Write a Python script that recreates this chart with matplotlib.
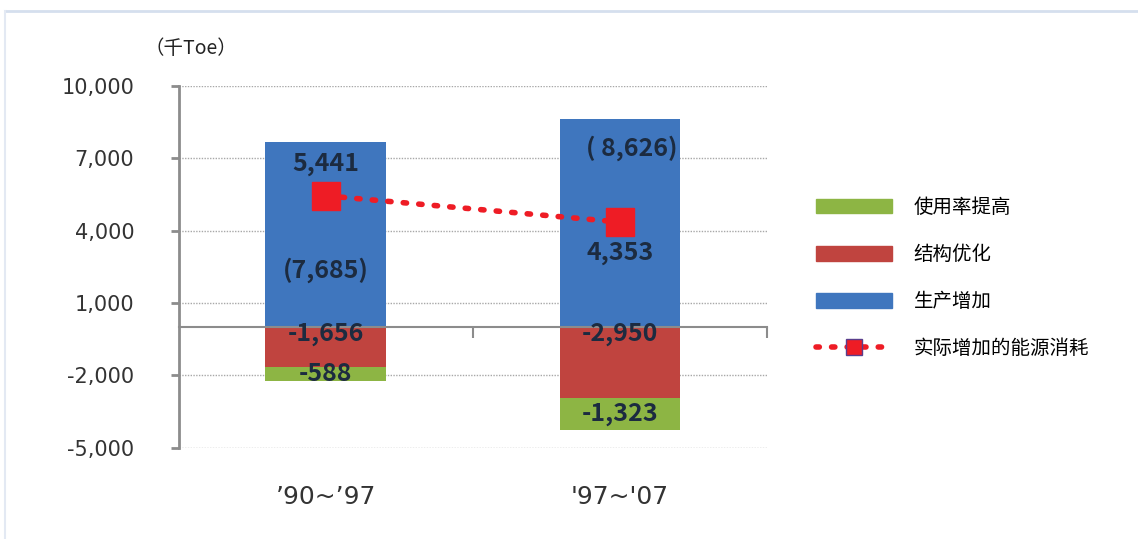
import numpy as np
import matplotlib.pyplot as plt
from matplotlib.patches import Patch
from matplotlib.lines import Line2D

plt.rcParams['font.family'] = ['Noto Sans CJK SC', 'DejaVu Sans']

# datos
categorias = ['’90~’97', "'97~'07"]
produccion = [7685, 8626]        # 生产增加
estructura = [-1656, -2950]      # 结构优化
eficiencia = [-588, -1323]       # 使用率提高
consumo_real = [5441, 4353]      # 实际增加的能源消耗

azul = '#3F76BE'
rojo = '#C0443F'
verde = '#8DB544'
rojo_linea = '#EE1C25'
texto = '#1C2B40'

fig = plt.figure(figsize=(11.38, 5.39), dpi=100)
ax = fig.add_axes([0.157, 0.169, 0.517, 0.672])

# borde claro de la imagen
fig.add_artist(Line2D([0.004, 1.0], [0.98, 0.98], color='#D5DFEE', lw=2))
fig.add_artist(Line2D([0.004, 0.004], [0.0, 0.98], color='#E3E9F3', lw=1.5))

x = np.arange(len(categorias))
w = 0.41
ax.bar(x, produccion, w, color=azul, zorder=2)
ax.bar(x, estructura, w, color=rojo, zorder=2)
ax.bar(x, eficiencia, w, bottom=estructura, color=verde, zorder=2)
ax.plot(x, consumo_real, color=rojo_linea, ls=(0, (0.6, 2.2)), lw=4,
        dash_capstyle='round', marker='s', ms=20, mfc=rojo_linea,
        mec=rojo_linea, zorder=3)

# etiquetas
fmt = lambda v: f'{v:,}'
kw = dict(fontsize=18, fontweight='bold', color=texto, ha='center', va='center', zorder=4)
ax.annotate(fmt(consumo_real[0]), (x[0], consumo_real[0]), xytext=(0, 23),
            textcoords='offset points', **kw)
ax.annotate(fmt(consumo_real[1]), (x[1], consumo_real[1]), xytext=(0, -22),
            textcoords='offset points', **kw)
ax.text(x[0], 2350, f'({fmt(produccion[0])})', **kw)
ax.text(x[1] + 0.04, 7420, f'( {fmt(produccion[1])})', **kw)
for i in range(len(x)):
    ax.annotate(fmt(estructura[i]), (x[i], 0), xytext=(0, -5),
                textcoords='offset points', **kw)
    ax.text(x[i], estructura[i] + eficiencia[i] / 2, fmt(eficiencia[i]), **kw)

# ejes
ax.set_xlim(-0.5, 1.5)
ax.set_ylim(-5000, 10000)
ax.set_yticks(np.arange(-5000, 10001, 3000))
ax.set_yticklabels([f'{v:,}' for v in range(-5000, 10001, 3000)],
                   family='DejaVu Sans')
ax.yaxis.grid(True, ls=(0, (1, 1)), color='#A8A8A8', lw=1, zorder=0)
ax.tick_params(axis='y', length=6, width=2, color='#8C8C8C', pad=26,
               labelsize=15, labelcolor='#333333')
for s in ['top', 'right']:
    ax.spines[s].set_visible(False)
ax.spines['left'].set_color('#8C8C8C')
ax.spines['left'].set_linewidth(2)
ax.spines['bottom'].set_position(('data', 0))
ax.spines['bottom'].set_color('#8C8C8C')
ax.spines['bottom'].set_linewidth(1.5)
ax.set_xticks([0.5, 1.5])
ax.set_xticklabels([])
ax.tick_params(axis='x', length=8, width=1.5, color='#8C8C8C')
for i, c in enumerate(categorias):
    ax.text(x[i], -0.135, c, transform=ax.get_xaxis_transform(), ha='center',
            va='center', fontsize=18, color='#333333', family='DejaVu Sans')

fig.text(0.127, 0.91, '（千Toe）', fontsize=14, color='#222222', va='center')

handles = [Patch(color=verde), Patch(color=rojo), Patch(color=azul),
           Line2D([], [], color=rojo_linea, ls=(0, (0.6, 2.2)), lw=4,
                  dash_capstyle='round', marker='s', ms=11, mfc=rojo_linea,
                  mec='#5A3E8C', mew=1)]
labels = ['使用率提高', '结构优化', '生产增加', '实际增加的能源消耗']
fig.legend(handles, labels, loc='center left', bbox_to_anchor=(0.702, 0.484),
           frameon=False, fontsize=14, handlelength=3.9, handleheight=0.8,
           handletextpad=1.1, labelspacing=1.35)

fig.savefig('out.png', dpi=100)
